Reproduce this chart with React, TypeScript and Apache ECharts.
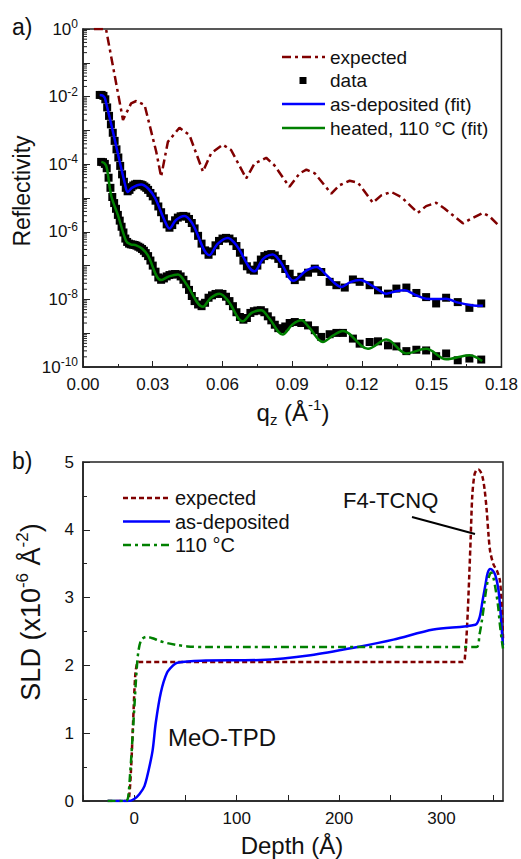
import React, { useEffect, useRef } from 'react';
import * as echarts from 'echarts';

// ---------- Panel a) reflectivity vs q_z ----------
const qTicks = [0, 0.03, 0.06, 0.09, 0.12, 0.15, 0.18];

const expectedR: [number, number][] = [
  [0.0047, 1], [0.0099, 1], [0.0172, 2.04e-3], [0.0207, 6.31e-3], [0.0229, 7.41e-3], [0.0265, 5.62e-3],
  [0.0315, 2.34e-4], [0.0336, 4.27e-5], [0.0365, 4.57e-4], [0.0415, 1.2e-3], [0.0458, 7.24e-4],
  [0.0516, 6.03e-5], [0.0551, 2.09e-4], [0.0601, 3.8e-4], [0.0637, 2.63e-4], [0.0702, 3.8e-5],
  [0.0738, 1.05e-4], [0.0788, 1.55e-4], [0.0823, 9.33e-5], [0.0888, 2.14e-5], [0.0932, 5.37e-5],
  [0.0961, 6.92e-5], [0.0997, 5.37e-5], [0.1068, 1.35e-5], [0.1104, 2.4e-5], [0.1147, 3.24e-5],
  [0.1183, 2.82e-5], [0.1247, 7.24e-6], [0.1283, 1.2e-5], [0.1326, 1.51e-5], [0.1369, 1.07e-5],
  [0.144, 3.63e-6], [0.1476, 5.75e-6], [0.1519, 7.24e-6], [0.1555, 4.9e-6], [0.1634, 1.78e-6],
  [0.167, 2.45e-6], [0.172, 3.63e-6], [0.1748, 2.88e-6], [0.1791, 1.48e-6],
];

const depositedData: [number, number][] = [
  [0.0072, 1.12e-2], [0.008, 1.12e-2], [0.0088, 1.05e-2], [0.0096, 8.32e-3], [0.0104, 4.79e-3],
  [0.0112, 2.69e-3], [0.012, 1.51e-3], [0.0128, 8.51e-4], [0.0136, 4.9e-4], [0.0144, 2.75e-4],
  [0.0152, 1.58e-4], [0.016, 8.91e-5], [0.0168, 5.01e-5], [0.0176, 3.02e-5], [0.0184, 2.0e-5],
  [0.0192, 1.58e-5], [0.02, 1.74e-5], [0.0208, 2.09e-5], [0.0216, 2.34e-5], [0.0224, 2.51e-5],
  [0.0232, 2.63e-5], [0.024, 2.57e-5], [0.0248, 2.51e-5], [0.0256, 2.4e-5], [0.0264, 2.19e-5],
  [0.0272, 2.0e-5], [0.028, 1.74e-5], [0.029, 1.41e-5], [0.03, 1.12e-5], [0.0312, 8.32e-6],
  [0.0324, 5.62e-6], [0.0336, 3.8e-6], [0.0348, 2.51e-6], [0.036, 1.66e-6], [0.0372, 1.32e-6],
  [0.0384, 1.58e-6], [0.0396, 2.19e-6], [0.0408, 2.63e-6], [0.042, 2.88e-6], [0.0432, 2.95e-6],
  [0.0444, 2.82e-6], [0.0456, 2.4e-6], [0.0468, 1.82e-6], [0.048, 1.26e-6], [0.0495, 7.59e-7],
  [0.051, 4.47e-7], [0.0525, 2.82e-7], [0.054, 2.09e-7], [0.0555, 2.63e-7], [0.057, 3.98e-7],
  [0.0585, 5.37e-7], [0.06, 6.31e-7], [0.0615, 6.61e-7], [0.063, 6.31e-7], [0.0645, 5.25e-7],
  [0.066, 3.8e-7], [0.0675, 2.4e-7], [0.069, 1.41e-7], [0.0705, 9.55e-8], [0.072, 7.59e-8],
  [0.0735, 7.08e-8], [0.075, 1.0e-7], [0.0765, 1.51e-7], [0.078, 1.91e-7], [0.0795, 2.09e-7],
  [0.081, 2.19e-7], [0.0825, 2.0e-7], [0.084, 1.58e-7], [0.0855, 1.12e-7], [0.087, 7.94e-8],
  [0.0889, 5.75e-8], [0.0911, 3.72e-8], [0.0939, 4.68e-8], [0.0968, 6.17e-8], [0.0997, 8.13e-8],
  [0.1025, 6.46e-8], [0.1061, 3.31e-8], [0.109, 2.63e-8], [0.1126, 2.24e-8], [0.1161, 3.89e-8],
  [0.119, 3.31e-8], [0.1233, 2.63e-8], [0.1269, 1.86e-8], [0.1312, 1.48e-8], [0.1348, 2.09e-8],
  [0.1391, 2.24e-8], [0.1434, 1.55e-8], [0.1476, 1.17e-8], [0.1519, 7.59e-9], [0.1562, 1.12e-8],
  [0.1612, 8.32e-9], [0.1662, 5.62e-9], [0.1713, 7.59e-9],
];

const heatedData: [number, number][] = [
  [0.0078, 1.17e-4], [0.0086, 1.15e-4], [0.0094, 1.02e-4], [0.0102, 7.59e-5], [0.011, 3.98e-5],
  [0.0118, 2.0e-5], [0.0126, 1.07e-5], [0.0134, 7.08e-6], [0.0142, 4.79e-6], [0.015, 3.16e-6],
  [0.0158, 2.14e-6], [0.0166, 1.41e-6], [0.0174, 9.55e-7], [0.0182, 6.31e-7], [0.019, 5.01e-7],
  [0.0198, 4.47e-7], [0.0206, 4.27e-7], [0.0214, 4.17e-7], [0.0222, 4.07e-7], [0.023, 3.89e-7],
  [0.0238, 3.63e-7], [0.0246, 3.39e-7], [0.0254, 3.09e-7], [0.0262, 2.75e-7], [0.027, 2.34e-7],
  [0.028, 1.91e-7], [0.029, 1.41e-7], [0.03, 1.0e-7], [0.0312, 6.61e-8], [0.0324, 4.47e-8],
  [0.0336, 3.8e-8], [0.0348, 4.17e-8], [0.036, 4.79e-8], [0.0372, 5.25e-8], [0.0384, 5.5e-8],
  [0.0396, 5.62e-8], [0.0408, 5.5e-8], [0.042, 4.79e-8], [0.0432, 3.8e-8], [0.0444, 2.82e-8],
  [0.0456, 1.91e-8], [0.0468, 1.26e-8], [0.048, 8.91e-9], [0.0495, 7.08e-9], [0.051, 6.31e-9],
  [0.0525, 7.94e-9], [0.054, 1.12e-8], [0.0555, 1.32e-8], [0.057, 1.45e-8], [0.0585, 1.51e-8],
  [0.06, 1.45e-8], [0.0615, 1.2e-8], [0.063, 8.91e-9], [0.0645, 6.31e-9], [0.066, 4.17e-9],
  [0.0675, 3.02e-9], [0.069, 2.51e-9], [0.0705, 2.82e-9], [0.072, 3.98e-9], [0.0735, 4.47e-9],
  [0.075, 4.68e-9], [0.0765, 4.79e-9], [0.078, 4.17e-9], [0.0795, 3.16e-9], [0.081, 2.4e-9],
  [0.0825, 1.78e-9], [0.084, 1.41e-9], [0.0855, 1.32e-9], [0.087, 1.58e-9],
  [0.0889, 2.0e-9], [0.0911, 2.14e-9], [0.0939, 2.0e-9], [0.0968, 1.7e-9], [0.0997, 1.23e-9],
  [0.1025, 7.76e-10], [0.1061, 9.33e-10], [0.109, 1.02e-9], [0.1118, 1.02e-9], [0.1161, 6.92e-10],
  [0.119, 4.9e-10], [0.1233, 5.5e-10], [0.1269, 5.75e-10], [0.1312, 4.37e-10], [0.1348, 4.07e-10],
  [0.1391, 2.95e-10], [0.1434, 3.24e-10], [0.1476, 3.09e-10], [0.1519, 2.09e-10], [0.1562, 2.51e-10],
  [0.1612, 1.58e-10], [0.1662, 1.78e-10], [0.1713, 1.66e-10],
];

const depositedFit: [number, number][] = [
  [0.0072, 1.12e-2], [0.0085, 1.07e-2], [0.0095, 8.71e-3], [0.0185, 1.91e-5], [0.0193, 1.51e-5],
  [0.021, 2.0e-5], [0.025, 2.51e-5], [0.028, 1.91e-5], [0.031, 1.0e-5], [0.035, 2.24e-6],
  [0.0372, 1.26e-6], [0.04, 2.24e-6], [0.0437, 2.95e-6], [0.047, 1.78e-6], [0.0544, 2.04e-7],
  [0.058, 4.47e-7], [0.0623, 6.61e-7], [0.066, 3.98e-7], [0.0738, 6.76e-8], [0.0775, 1.58e-7],
  [0.0816, 2.14e-7], [0.085, 1.26e-7], [0.0905, 3.55e-8], [0.096, 7.08e-8], [0.1004, 9.12e-8],
  [0.105, 5.01e-8], [0.1111, 2.34e-8], [0.115, 3.24e-8], [0.119, 3.72e-8], [0.125, 2.4e-8],
  [0.1305, 1.48e-8], [0.1345, 1.74e-8], [0.1383, 1.86e-8], [0.143, 1.35e-8], [0.1476, 1.05e-8],
  [0.152, 1.02e-8], [0.1562, 1.05e-8], [0.1605, 8.32e-9], [0.167, 6.76e-9], [0.172, 6.46e-9],
];

const heatedFit: [number, number][] = [
  [0.0079, 1.17e-4], [0.0092, 1.07e-4], [0.0102, 7.94e-5], [0.0122, 1.12e-5], [0.015, 3.16e-6],
  [0.0186, 5.25e-7], [0.0205, 4.27e-7], [0.0229, 3.98e-7], [0.0255, 3.16e-7], [0.0279, 2.0e-7],
  [0.0336, 3.72e-8], [0.037, 4.79e-8], [0.0408, 5.5e-8], [0.0445, 2.82e-8], [0.0516, 6.03e-9],
  [0.055, 1.12e-8], [0.0587, 1.48e-8], [0.0625, 8.91e-9], [0.0687, 2.24e-9], [0.0725, 3.98e-9],
  [0.0766, 4.79e-9], [0.08, 2.82e-9], [0.0859, 9.12e-10], [0.09, 1.78e-9], [0.0939, 2.4e-9],
  [0.0975, 1.41e-9], [0.1032, 5.5e-10], [0.1075, 8.5e-10], [0.1118, 1.17e-9], [0.1226, 3.47e-10],
  [0.1305, 6.46e-10], [0.1391, 2.51e-10], [0.1476, 3.47e-10], [0.1562, 1.7e-10], [0.1662, 2.24e-10],
  [0.1717, 1.51e-10],
];

// ---------- Panel b) SLD profiles ----------
const sldExpected: [number, number][] = [
  [-26, 0], [-7, 0], [-5, 0.06], [-3, 0.5], [-1, 1.2], [1, 1.85], [3, 2.04], [5, 2.05],
  [321, 2.05], [323, 2.15], [325, 2.6], [327, 3.3], [328.5, 3.9], [330, 4.5], [332, 4.8],
  [334, 4.88], [336, 4.89], [338, 4.86], [340, 4.78], [342, 4.6], [344, 4.3], [346, 3.9],
  [347.5, 3.68], [350.7, 3.49], [354, 3.4], [357, 3.25], [359, 2.8], [360, 2.4],
];

const sldDeposited: [number, number][] = [
  [-26, 0], [-6, 0], [0, 0.03], [5, 0.1], [10, 0.22], [14, 0.45], [18, 0.75], [21, 1.15],
  [26, 1.6], [32, 1.89], [38, 2.0], [42, 2.04], [65, 2.07], [123, 2.08], [172, 2.15],
  [221, 2.28], [253, 2.38], [292, 2.53], [333, 2.6], [337, 2.7], [340, 2.95], [343, 3.2],
  [345, 3.36], [347.5, 3.42], [350, 3.4], [352.5, 3.33], [355.5, 3.12], [357.5, 2.8],
  [359, 2.48], [360, 2.3],
];

const sldHeated: [number, number][] = [
  [-26, 0], [-8, 0], [-6, 0.05], [-4, 0.4], [-2, 0.85], [0, 1.35], [2, 1.85], [4, 2.2],
  [7, 2.38], [12, 2.42], [18, 2.4], [25, 2.36], [32, 2.33], [42, 2.3], [52, 2.28], [70, 2.27],
  [334, 2.27], [337, 2.45], [339.5, 2.67], [342, 2.95], [344.5, 3.2], [347, 3.34], [348.5, 3.37],
  [350.5, 3.3], [352.5, 3.15], [355, 2.9], [357, 2.6], [359, 2.35], [360, 2.25],
];

const FONT = 'Arial, "Liberation Sans", Helvetica, sans-serif';
const RED = '#800000';
const BLUE = '#0000ff';
const GREEN = '#008000';
const AXIS = '#222';

export default function App() {
  const ref = useRef<HTMLDivElement>(null);

  useEffect(() => {
    const chart = echarts.init(ref.current!, null, { renderer: 'svg' });

    // positions of the small (2..9 x 10^n) log ticks on the reflectivity axis
    const logMinor: number[][] = [];
    for (let e = -10; e < 0; e++) {
      for (let m = 2; m <= 9; m++) logMinor.push([0, m * Math.pow(10, e)]);
    }

    const tickLabel = { fontSize: 17, fontFamily: FONT, color: '#111' };
    const titleStyle = { fontFamily: FONT, fill: '#111' };

    const legendLine = (x1: number, x2: number, y: number, color: string, dash: number[] | null) => ({
      type: 'line',
      shape: { x1, y1: y, x2, y2: y },
      style: { stroke: color, lineWidth: 2.5, lineDash: dash || undefined },
    });
    const legendText = (x: number, y: number, text: string, size: number) => ({
      type: 'text',
      x,
      y,
      style: { text, fontSize: size, fontFamily: FONT, fill: '#111', verticalAlign: 'middle', align: 'left' },
    });

    const option: any = {
      animation: false,
      backgroundColor: '#fff',
      grid: [
        { left: 83, top: 29, width: 419, height: 338, show: true, borderColor: AXIS, borderWidth: 1.5, backgroundColor: 'transparent' },
        { left: 83, top: 462, width: 420, height: 339, show: true, borderColor: AXIS, borderWidth: 1.5, backgroundColor: 'transparent' },
      ],
      xAxis: [
        {
          gridIndex: 0, type: 'value', min: qTicks[0], max: qTicks[qTicks.length - 1], interval: 0.03,
          axisLine: { show: true, onZero: false, lineStyle: { color: AXIS, width: 1.5 } },
          axisTick: { show: true, inside: true, length: 6, lineStyle: { color: AXIS } },
          minorTick: { show: true, splitNumber: 2, length: 3, lineStyle: { color: AXIS } },
          splitLine: { show: false },
          axisLabel: { ...tickLabel, margin: 9, formatter: (v: number) => v.toFixed(2) },
        },
        {
          gridIndex: 1, type: 'value', min: -50, max: 360, interval: 50,
          axisLine: { show: true, onZero: false, lineStyle: { color: AXIS, width: 1.5 } },
          axisTick: { show: true, inside: true, length: 6, lineStyle: { color: AXIS } },
          splitLine: { show: false },
          axisLabel: {
            ...tickLabel, margin: 9, showMaxLabel: false,
            formatter: (v: number) => (v >= 0 && Math.round(v) % 100 === 0 ? String(Math.round(v)) : ''),
          },
        },
      ],
      yAxis: [
        {
          gridIndex: 0, type: 'log', logBase: 10, min: 1e-10, max: 1, interval: 1,
          axisLine: { show: true, onZero: false, lineStyle: { color: AXIS, width: 1.5 } },
          axisTick: { show: true, inside: true, length: 7, lineStyle: { color: AXIS } },
          splitLine: { show: false },
          axisLabel: {
            margin: 5,
            formatter: (v: number) => {
              const e = Math.round(Math.log10(v));
              if (e % 2 !== 0) return '';
              return `{b|10}{s|${e}}`;
            },
            rich: {
              b: { fontSize: 17, fontFamily: FONT, color: '#111', lineHeight: 22 },
              s: { fontSize: 12, fontFamily: FONT, color: '#111', lineHeight: 12, verticalAlign: 'top' },
            },
          },
        },
        {
          gridIndex: 1, type: 'value', min: 0, max: 5, interval: 1,
          axisLine: { show: true, onZero: false, lineStyle: { color: AXIS, width: 1.5 } },
          axisTick: { show: true, inside: true, length: 7, lineStyle: { color: AXIS } },
          minorTick: { show: true, splitNumber: 2, length: 4, lineStyle: { color: AXIS } },
          splitLine: { show: false },
          axisLabel: { ...tickLabel, margin: 9 },
        },
      ],
      series: [
        {
          type: 'custom', xAxisIndex: 0, yAxisIndex: 0, silent: true, data: logMinor,
          renderItem: (params: any, api: any) => {
            const p = api.coord([api.value(0), api.value(1)]);
            return {
              type: 'line',
              shape: { x1: p[0], y1: p[1], x2: p[0] + 4, y2: p[1] },
              style: { stroke: AXIS, lineWidth: 1 },
            };
          },
        },
        {
          name: 'data', type: 'scatter', xAxisIndex: 0, yAxisIndex: 0, data: depositedData,
          symbol: 'rect', symbolSize: 8, itemStyle: { color: '#000', opacity: 1 },
        },
        {
          name: 'data', type: 'scatter', xAxisIndex: 0, yAxisIndex: 0, data: heatedData,
          symbol: 'rect', symbolSize: 8, itemStyle: { color: '#000', opacity: 1 },
        },
        {
          name: 'expected', type: 'line', xAxisIndex: 0, yAxisIndex: 0, data: expectedR,
          showSymbol: false, symbol: 'none',
          lineStyle: { color: RED, width: 2.5, type: [9, 4, 3, 4] },
        },
        {
          name: 'as-deposited (fit)', type: 'line', xAxisIndex: 0, yAxisIndex: 0, data: depositedFit,
          showSymbol: false, symbol: 'none', smooth: 0.35,
          lineStyle: { color: BLUE, width: 2.5 },
        },
        {
          name: 'heated, 110 °C (fit)', type: 'line', xAxisIndex: 0, yAxisIndex: 0, data: heatedFit,
          showSymbol: false, symbol: 'none', smooth: 0.35,
          lineStyle: { color: GREEN, width: 2.5 },
        },
        {
          name: 'expected_b', type: 'line', xAxisIndex: 1, yAxisIndex: 1, data: sldExpected,
          showSymbol: false, symbol: 'none', smooth: 0.3,
          lineStyle: { color: RED, width: 2.5, type: [5, 3] },
        },
        {
          name: 'as-deposited', type: 'line', xAxisIndex: 1, yAxisIndex: 1, data: sldDeposited,
          showSymbol: false, symbol: 'none', smooth: 0.3,
          lineStyle: { color: BLUE, width: 2.5 },
        },
        {
          name: '110 °C', type: 'line', xAxisIndex: 1, yAxisIndex: 1, data: sldHeated,
          showSymbol: false, symbol: 'none', smooth: 0.3,
          lineStyle: { color: GREEN, width: 2.5, type: [8, 4, 3, 4] },
        },
      ],
      graphic: [
        { type: 'text', x: 12, y: 27, style: { text: 'a)', fontSize: 23, ...titleStyle, verticalAlign: 'middle' } },
        { type: 'text', x: 12, y: 461, style: { text: 'b)', fontSize: 23, ...titleStyle, verticalAlign: 'middle' } },
        {
          type: 'text', x: 22, y: 191, rotation: Math.PI / 2,
          style: { text: 'Reflectivity', fontSize: 23, ...titleStyle, align: 'center', verticalAlign: 'middle' },
        },
        {
          type: 'text', x: 293, y: 412,
          style: {
            text: '{a|q}{b|z}{a| (Å}{c|-1}{a|)}', ...titleStyle, align: 'center', verticalAlign: 'middle',
            rich: {
              a: { fontSize: 24, fontFamily: FONT, lineHeight: 30 },
              b: { fontSize: 15, fontFamily: FONT, lineHeight: 15, verticalAlign: 'bottom' },
              c: { fontSize: 15, fontFamily: FONT, lineHeight: 15, verticalAlign: 'top' },
            },
          },
        },
        {
          type: 'text', x: 31, y: 612, rotation: Math.PI / 2,
          style: {
            text: '{a|SLD (x10}{c|-6}{a| Å}{c|-2}{a|)}', ...titleStyle, align: 'center', verticalAlign: 'middle',
            rich: {
              a: { fontSize: 27, fontFamily: FONT, lineHeight: 34 },
              c: { fontSize: 17, fontFamily: FONT, lineHeight: 17, verticalAlign: 'top' },
            },
          },
        },
        {
          type: 'text', x: 292, y: 845,
          style: { text: 'Depth (Å)', fontSize: 24, ...titleStyle, align: 'center', verticalAlign: 'middle' },
        },
        { type: 'text', x: 343, y: 500, style: { text: 'F4-TCNQ', fontSize: 22, ...titleStyle, verticalAlign: 'middle' } },
        { type: 'line', shape: { x1: 412, y1: 517, x2: 475, y2: 534 }, style: { stroke: '#000', lineWidth: 2 } },
        { type: 'text', x: 168, y: 737, style: { text: 'MeO-TPD', fontSize: 24, ...titleStyle, verticalAlign: 'middle' } },

        // legend, panel a
        legendLine(282, 325, 57, RED, [9, 4, 3, 4]),
        legendText(330, 57, 'expected', 19),
        { type: 'rect', shape: { x: 299.5, y: 77, width: 7, height: 7 }, style: { fill: '#000' } },
        legendText(330, 80.5, 'data', 19),
        legendLine(282, 325, 104, BLUE, null),
        legendText(330, 104, 'as-deposited (fit)', 19),
        legendLine(282, 325, 128, GREEN, null),
        legendText(330, 128, 'heated, 110 °C (fit)', 19),

        // legend, panel b
        legendLine(123, 170, 498, RED, [5, 3]),
        legendText(175, 498, 'expected', 20),
        legendLine(123, 170, 521.5, BLUE, null),
        legendText(175, 521.5, 'as-deposited', 20),
        legendLine(123, 170, 545, GREEN, [8, 4, 3, 4]),
        legendText(175, 545, '110 °C', 20),
      ],
    };

    chart.setOption(option);
    return () => chart.dispose();
  }, []);

  return (
    <div
      ref={ref}
      style={{ position: 'fixed', left: 0, top: 0, width: 521, height: 859, background: '#fff' }}
    />
  );
}
